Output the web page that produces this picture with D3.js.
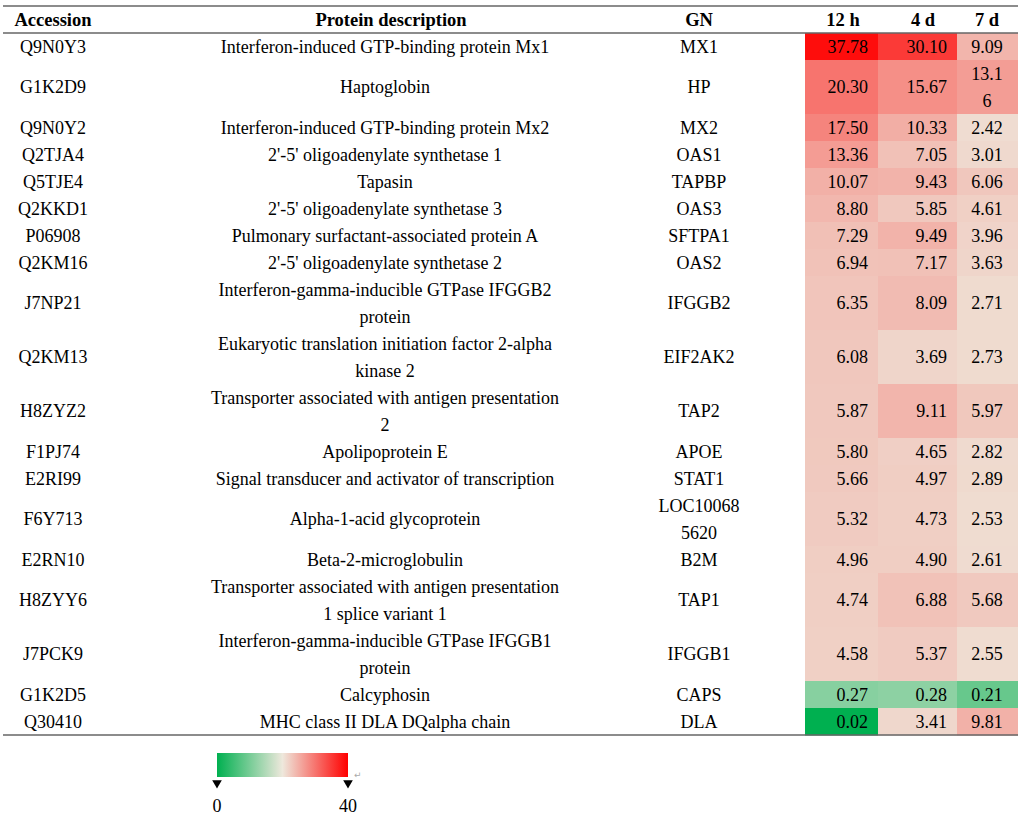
<html>
<head>
    <style>
        body {
            margin: 0;
            background: white;
        }
    </style>
    <script src="https://cdn.jsdelivr.net/npm/d3@7"></script>
</head>
<body>
    <svg id="Table"></svg>
</body>
<script>
    // table contents
    const accessions = ["Q9N0Y3", "G1K2D9", "Q9N0Y2", "Q2TJA4", "Q5TJE4", "Q2KKD1", "P06908", "Q2KM16", "J7NP21",
        "Q2KM13", "H8ZYZ2", "F1PJ74", "E2RI99", "F6Y713", "E2RN10", "H8ZYY6", "J7PCK9", "G1K2D5", "Q30410"]
    const descriptions = [
        "Interferon-induced GTP-binding protein Mx1",
        "Haptoglobin",
        "Interferon-induced GTP-binding protein Mx2",
        "2'-5' oligoadenylate synthetase 1",
        "Tapasin",
        "2'-5' oligoadenylate synthetase 3",
        "Pulmonary surfactant-associated protein A",
        "2'-5' oligoadenylate synthetase 2",
        "Interferon-gamma-inducible GTPase IFGGB2\nprotein",
        "Eukaryotic translation initiation factor 2-alpha\nkinase 2",
        "Transporter associated with antigen presentation\n2",
        "Apolipoprotein E",
        "Signal transducer and activator of transcription",
        "Alpha-1-acid glycoprotein",
        "Beta-2-microglobulin",
        "Transporter associated with antigen presentation\n1 splice variant 1",
        "Interferon-gamma-inducible GTPase IFGGB1\nprotein",
        "Calcyphosin",
        "MHC class II DLA DQalpha chain"
    ]
    const genes = ["MX1", "HP", "MX2", "OAS1", "TAPBP", "OAS3", "SFTPA1", "OAS2", "IFGGB2", "EIF2AK2", "TAP2",
        "APOE", "STAT1", "LOC100685620", "B2M", "TAP1", "IFGGB1", "CAPS", "DLA"]
    const timePoints = ["12 h", "4 d", "7 d"]
    const v12h = [37.78, 20.30, 17.50, 13.36, 10.07, 8.80, 7.29, 6.94, 6.35, 6.08, 5.87, 5.80, 5.66, 5.32, 4.96, 4.74, 4.58, 0.27, 0.02]
    const v4d = [30.10, 15.67, 10.33, 7.05, 9.43, 5.85, 9.49, 7.17, 8.09, 3.69, 9.11, 4.65, 4.97, 4.73, 4.90, 6.88, 5.37, 0.28, 3.41]
    const v7d = [9.09, 13.16, 2.42, 3.01, 6.06, 4.61, 3.96, 3.63, 2.71, 2.73, 5.97, 2.82, 2.89, 2.53, 2.61, 5.68, 2.55, 0.21, 9.81]
    const colorStops = [0.02, 0.46, 40]
    const legendTicks = [0, 40]

    const chartWidth = 1020
    const chartHeight = 816
    const lineH = 27
    const tableTop = 33

    let svg = d3.select('#Table')
        .attr("width", chartWidth)
        .attr("height", chartHeight)
        .attr("font-family", "'Liberation Serif', 'Times New Roman', 'DejaVu Serif', serif")
        .style("display", "block")

    let color = d3.scaleLinear()
        .domain(colorStops)
        .range(["#00b050", "#eee8dc", "#ff0000"])

    // cell x positions for the three time columns
    let cellX = d3.scaleOrdinal().domain(timePoints).range([805, 878, 957])
    let cellW = d3.scaleOrdinal().domain(timePoints).range([73, 79, 61])
    let textX = d3.scaleOrdinal().domain(timePoints).range([868, 947, 987])
    let textAnchor = d3.scaleOrdinal().domain(timePoints).range(["end", "end", "middle"])

    function splitAt(str, n) {
        if (!n || str.length <= n) return [str]
        return [str.slice(0, n), str.slice(n)]
    }

    let series = [v12h, v4d, v7d]
    let rows = accessions.map((acc, i) => {
        let cells = timePoints.map((t, j) => ({
            t: t,
            value: series[j][i],
            lines: splitAt(series[j][i].toFixed(2), t === "7 d" ? 4 : null)
        }))
        let descLines = descriptions[i].split("\n")
        let geneLines = splitAt(genes[i], 8)
        let n = d3.max([descLines.length, geneLines.length].concat(cells.map(c => c.lines.length)))
        return { acc, descLines, geneLines, cells, n }
    })
    let offsets = d3.cumsum(rows, r => r.n * lineH)
    rows.forEach((r, i) => {
        r.y = tableTop + (i === 0 ? 0 : offsets[i - 1])
        r.h = r.n * lineH
    })
    let tableBottom = tableTop + offsets[offsets.length - 1]

    // heat cells
    let body = svg.append("g")
    body.selectAll(".row").data(rows).enter().append("g")
        .attr("class", "row")
        .each(function (r) {
            let g = d3.select(this)
            g.selectAll("rect").data(r.cells).enter().append("rect")
                .attr("x", c => cellX(c.t))
                .attr("y", r.y)
                .attr("width", c => cellW(c.t))
                .attr("height", r.h + 0.5)
                .attr("fill", c => color(c.value))
        })

    function writeLines(g, lines, x, cy, anchor) {
        let t = g.append("text")
            .attr("text-anchor", anchor)
            .attr("font-size", 18)
            .attr("fill", "black")
        lines.forEach((l, k) => {
            t.append("tspan")
                .attr("x", x)
                .attr("y", cy + (k - (lines.length - 1) / 2) * lineH)
                .attr("dy", "0.34em")
                .text(l)
        })
    }

    rows.forEach(r => {
        let cy = r.y + r.h / 2
        writeLines(body, [r.acc], 53, cy, "middle")
        writeLines(body, r.descLines, 385, cy, "middle")
        writeLines(body, r.geneLines, 699, cy, "middle")
        r.cells.forEach(c => writeLines(body, c.lines, textX(c.t), cy, textAnchor(c.t)))
    })

    // header
    let headers = [
        { label: "Accession", x: 53 },
        { label: "Protein description", x: 391 },
        { label: "GN", x: 699 }
    ].concat(timePoints.map((t, j) => ({ label: t, x: [843, 923, 987][j] })))
    svg.append("g").selectAll("text").data(headers).enter().append("text")
        .attr("x", d => d.x)
        .attr("y", 20)
        .attr("dy", "0.34em")
        .attr("text-anchor", "middle")
        .attr("font-weight", "bold")
        .attr("font-size", 18.5)
        .text(d => d.label)

    // rules
    svg.append("g").selectAll("line").data([6, tableTop, tableBottom]).enter().append("line")
        .attr("x1", 3)
        .attr("x2", 1018)
        .attr("y1", d => d)
        .attr("y2", d => d)
        .attr("stroke", "#666")
        .attr("stroke-width", 1.6)

    // legend
    let legendX = d3.scaleLinear().domain(legendTicks).range([217, 348])
    let grad = svg.append("defs").append("linearGradient").attr("id", "legendGrad")
    grad.selectAll("stop").data(["#00b050", "#eee8dc", "#ff0000"]).enter().append("stop")
        .attr("offset", (d, i) => (i * 50) + "%")
        .attr("stop-color", d => d)
    svg.append("rect")
        .attr("x", legendX(0))
        .attr("y", 753)
        .attr("width", legendX(40) - legendX(0))
        .attr("height", 24)
        .attr("fill", "url(#legendGrad)")
    let legend = svg.append("g").selectAll("g").data(legendTicks).enter().append("g")
        .attr("transform", d => `translate(${legendX(d)},0)`)
    legend.append("path")
        .attr("d", d3.symbol(d3.symbolTriangle, 40))
        .attr("transform", "translate(0,783) rotate(180)")
        .attr("fill", "black")
    legend.append("text")
        .attr("y", 806)
        .attr("dy", "0.34em")
        .attr("text-anchor", "middle")
        .attr("font-size", 18)
        .text(d => d)
    svg.append("text")
        .attr("x", 354)
        .attr("y", 778)
        .attr("font-size", 9)
        .attr("fill", "#aaa")
        .attr("font-family", "DejaVu Sans")
        .text("\u21b5")
</script>
</html>
